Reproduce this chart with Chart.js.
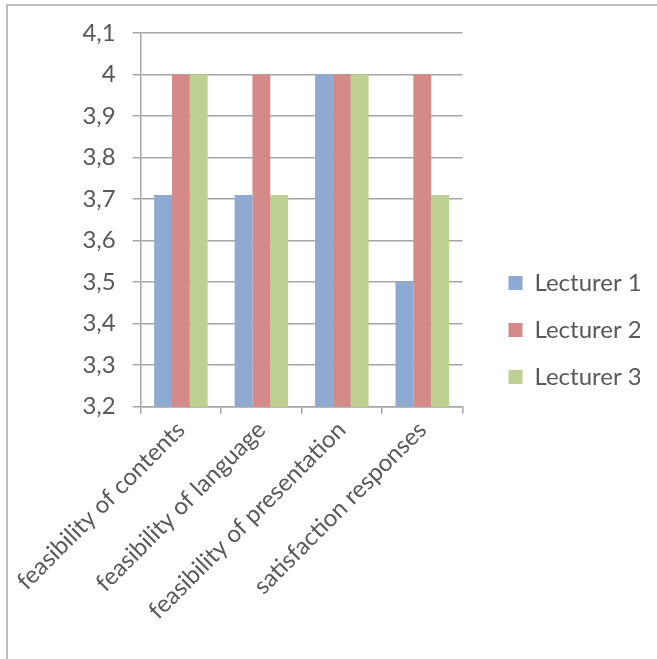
<!DOCTYPE html>
<html>
<head>
<meta charset="utf-8">
<script src="https://cdn.jsdelivr.net/npm/chart.js@4/dist/chart.umd.min.js"></script>
<style>
    body { margin: 0; background: #fff; }
    #frame {
        position: absolute; left: 6px; top: 4px;
        width: 651px; height: 655px;
        border-top: 2px solid #BDBDBD; border-left: 2px solid #BDBDBD;
    }
    #wrap { width: 649px; height: 653px; }
</style>
</head>
<body>
<div id="frame"><div id="wrap"><canvas id="lecturerChart"></canvas></div></div>
<script>
// --- DATA ---
const categories = ['feasibility of contents', 'feasibility of language', 'feasibility of presentation', 'satisfaction responses'];
const seriesNames = ['Lecturer 1', 'Lecturer 2', 'Lecturer 3'];
const lecturer1 = [3.71, 3.71, 4.0, 3.5];
const lecturer2 = [4.0, 4.0, 4.0, 4.0];
const lecturer3 = [4.0, 3.71, 4.0, 3.71];
const yMin = 3.2, yMax = 4.1, yStep = 0.1;

const barColors = ['#8EAAD2', '#D48A88', '#BED092'];
const textColor = '#595959';
const gridColor = '#A6A6A6';
const fontFamily = 'Lato, "Open Sans", sans-serif';
const legendGap = 23; // extra room between plot and legend

// widen the legend box on its left side so the plot ends earlier
const legendGapPlugin = {
    id: 'legendGap',
    beforeUpdate(chart) {
        const legend = chart.legend;
        if (legend && !legend._gapPatched) {
            const origFit = legend.fit;
            legend.fit = function() {
                origFit.call(this);
                this.width += legendGap;
            };
            legend._gapPatched = true;
        }
    },
    afterLayout(chart) {
        if (chart.legend) chart.legend.left += legendGap;
    }
};

document.addEventListener('DOMContentLoaded', () => {
    const ctx = document.getElementById('lecturerChart').getContext('2d');
    const values = [lecturer1, lecturer2, lecturer3];

    new Chart(ctx, {
        type: 'bar',
        data: {
            labels: categories,
            datasets: seriesNames.map((name, i) => ({
                label: name,
                data: values[i],
                backgroundColor: barColors[i],
                borderWidth: 0,
                categoryPercentage: 0.665,
                barPercentage: 1.0
            }))
        },
        options: {
            responsive: true,
            maintainAspectRatio: false,
            animation: false,
            layout: { padding: { top: 27, right: 17, left: 14, bottom: 32 } },
            plugins: {
                legend: {
                    position: 'right',
                    labels: {
                        boxWidth: 14, boxHeight: 14, padding: 23,
                        color: textColor,
                        font: { family: fontFamily, size: 24 }
                    }
                },
                tooltip: { enabled: false }
            },
            scales: {
                x: {
                    grid: { drawOnChartArea: false, color: gridColor, tickLength: 7, lineWidth: 1.5 },
                    border: { color: gridColor, width: 1.5 },
                    ticks: {
                        autoSkip: false, minRotation: 45, maxRotation: 45,
                        color: textColor, font: { family: fontFamily, size: 24 }, padding: 2
                    }
                },
                y: {
                    min: yMin, max: yMax,
                    grid: { color: gridColor, tickLength: 8, lineWidth: 1.5 },
                    border: { color: gridColor, width: 1.5 },
                    ticks: {
                        stepSize: yStep,
                        color: textColor, font: { family: fontFamily, size: 24 }, padding: 17,
                        callback: (v) => String(Number(v.toFixed(1))).replace('.', ',')
                    },
                    // tick padding should only push labels away from the axis, not down from the top
                    afterFit: (scale) => { scale.paddingTop = 14; scale.paddingBottom = 14; }
                }
            }
        },
        plugins: [legendGapPlugin]
    });
});
</script>
</body>
</html>
